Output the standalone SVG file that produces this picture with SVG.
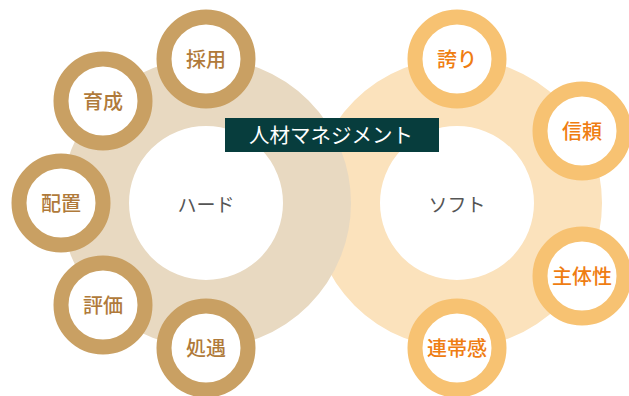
<svg xmlns="http://www.w3.org/2000/svg" width="629" height="396" viewBox="0 0 629 396">
<style>
.big{fill:none;stroke-width:68}
.sl{fill:#fff;stroke:#c9a063;stroke-width:15}
.sr{fill:#fff;stroke:#f7c272;stroke-width:15}
text{font-family:"Noto Sans CJK JP","Noto Sans",sans-serif;text-anchor:middle;dominant-baseline:central}
.tl{fill:#b07a3a;font-size:20px;font-weight:500}
.tr{fill:#ef7d12;font-size:20px;font-weight:500}
.tc{fill:#555;font-size:19px}
</style>
<rect width="629" height="396" fill="#fff"/>
<g id="soft">
<circle cx="457" cy="203" r="111" class="big" stroke="#fbe2bc"/>
<text x="457" y="203" class="tc">ソフト</text>
</g>
<g id="hard">
<circle cx="206" cy="203" r="111" class="big" stroke="#e8d9c1"/>
<text x="206" y="203" class="tc">ハード</text>
</g>
<g id="saiyou"><circle cx="206" cy="59" r="42" class="sl"/><text x="206" y="58" class="tl">採用</text></g>
<g id="ikusei"><circle cx="103" cy="101" r="42" class="sl"/><text x="103" y="100" class="tl">育成</text></g>
<g id="haichi"><circle cx="61" cy="203" r="42" class="sl"/><text x="61" y="202" class="tl">配置</text></g>
<g id="hyouka"><circle cx="103" cy="305" r="42" class="sl"/><text x="103" y="304" class="tl">評価</text></g>
<g id="shogu"><circle cx="206" cy="348" r="42" class="sl"/><text x="206" y="347" class="tl">処遇</text></g>
<g id="hokori"><circle cx="457" cy="59" r="42" class="sr"/><text x="457" y="58" class="tr">誇り</text></g>
<g id="shinrai"><circle cx="582" cy="131" r="42" class="sr"/><text x="582" y="130" class="tr">信頼</text></g>
<g id="shutaisei"><circle cx="582" cy="276" r="42" class="sr"/><text x="582" y="275" class="tr">主体性</text></g>
<g id="rentaikan"><circle cx="457" cy="348" r="42" class="sr"/><text x="457" y="347" class="tr">連帯感</text></g>
<g id="title">
<rect x="225" y="118" width="214" height="34" fill="#073d3d"/>
<text x="331" y="134" fill="#fff" font-size="20.5">人材マネジメント</text>
</g>
<g id="connectors"/>
</svg>
